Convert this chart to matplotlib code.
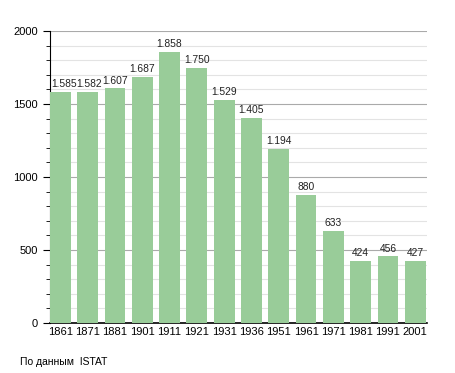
import matplotlib
matplotlib.use("Agg")
import matplotlib.pyplot as plt
from matplotlib.ticker import MultipleLocator

plt.rcParams["font.family"] = ["Liberation Sans", "DejaVu Sans"]

years = ["1861", "1871", "1881", "1901", "1911", "1921", "1931", "1936",
         "1951", "1961", "1971", "1981", "1991", "2001"]
population = [1585, 1582, 1607, 1687, 1858, 1750, 1529, 1405,
              1194, 880, 633, 424, 456, 427]
labels = ["1.585", "1.582", "1.607", "1.687", "1.858", "1.750", "1.529",
          "1.405", "1.194", "880", "633", "424", "456", "427"]

bar_w = 0.76

fig = plt.figure(figsize=(4.55, 3.73), dpi=100)
ax = fig.add_axes([50 / 455, 50 / 373, 377 / 455, 292 / 373])

x = list(range(len(years)))
ax.bar(x, population, width=bar_w, color="#99cc99", zorder=3)
for xi, v, lab in zip(x, population, labels):
    if xi == 0:
        # first label is kept inside the plot area
        ax.text(xi - bar_w / 2 + 0.04, v + 18, lab, ha="left", va="bottom",
                fontsize=7.4, color="#222222", zorder=4)
    elif xi == 1:
        # nudged so it sits right after the first label
        ax.text(xi + 0.06, v + 18, lab, ha="center", va="bottom",
                fontsize=7.4, color="#222222", zorder=4)
    else:
        ax.text(xi, v + 18, lab, ha="center", va="bottom", fontsize=7.4,
                color="#222222", zorder=4)

ax.set_xlim(-0.38, 13.43)
ax.set_ylim(0, 2000)
ax.set_xticks(x)
ax.set_xticklabels(years, fontsize=8)
ax.yaxis.set_major_locator(MultipleLocator(500))
ax.yaxis.set_minor_locator(MultipleLocator(100))
ax.tick_params(axis="y", labelsize=8, length=5, width=0.8)
ax.tick_params(axis="y", which="minor", length=3, width=0.6)
ax.tick_params(axis="x", length=0, pad=3)

ax.grid(axis="y", which="major", color="#aaaaaa", linewidth=0.8, zorder=0)
ax.grid(axis="y", which="minor", color="#e3e3e3", linewidth=0.8, zorder=0)

for s in ["top", "right"]:
    ax.spines[s].set_visible(False)
ax.spines["left"].set_linewidth(0.8)
ax.spines["bottom"].set_linewidth(1.2)

fig.text(20 / 455, 1 - 362 / 373, "По данным  ISTAT", fontsize=7.5, va="center", ha="left")

fig.savefig("out.png", dpi=100)
